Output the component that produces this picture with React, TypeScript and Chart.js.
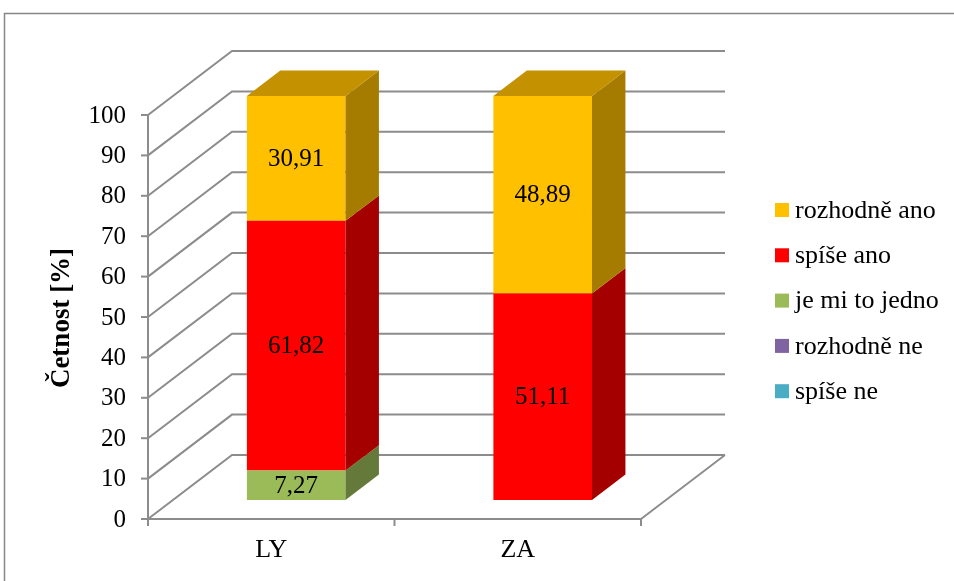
import React, { useEffect, useRef } from 'react';
import { Chart, registerables } from 'chart.js';
Chart.register(...registerables);

const categories = ['LY', 'ZA'];
const seriesLabels = ['spíše ne', 'rozhodně ne', 'je mi to jedno', 'spíše ano', 'rozhodně ano'];
const spiseNe = [0, 0];
const rozhodneNe = [0, 0];
const jeMiToJedno = [7.27, 0];
const spiseAno = [61.82, 51.11];
const rozhodneAno = [30.91, 48.89];
const yTicks = [0, 10, 20, 30, 40, 50, 60, 70, 80, 90, 100];
const yTitle = 'Četnost [%]';

const frontColors = ['#4BACC6', '#8064A2', '#9BBB59', '#FF0000', '#FFC000'];
const sideColors = ['#2F7F94', '#4F3C66', '#657A3A', '#A50000', '#A67C00'];
const topColors = ['#3A97B0', '#66508A', '#7E9A48', '#C40000', '#C49100'];

const FONT = '"Liberation Serif", "Times New Roman", serif';
const DX = 84;
const DY = -64;
const BAR_FRONT = 0.297;
const BAR_BACK = 0.695;
const GRID = '#8c8c8c';

const fmt = (v: number) => v.toFixed(2).replace('.', ',');

const threeD = {
  id: 'threeD',
  beforeDatasetsDraw(chart: any) {
    const { ctx, chartArea: a, scales } = chart;
    const y = scales.y;
    const x = scales.x;
    const xl = a.left;
    const xr = a.right;
    const y0 = y.getPixelForValue(yTicks[0]);
    const yTop = y.getPixelForValue(yTicks[yTicks.length - 1]);
    ctx.save();
    ctx.strokeStyle = '#878787';
    ctx.lineWidth = 1.5;
    ctx.strokeRect(4.5, 13.5, 1200, 800);

    ctx.strokeStyle = GRID;
    ctx.lineWidth = 2;
    const line = (x1: number, y1: number, x2: number, y2: number) => {
      ctx.beginPath();
      ctx.moveTo(x1, y1);
      ctx.lineTo(x2, y2);
      ctx.stroke();
    };
    yTicks.forEach((t) => {
      const py = y.getPixelForValue(t);
      ctx.beginPath();
      ctx.moveTo(xl, py);
      ctx.lineTo(xl + DX, py + DY);
      ctx.lineTo(xr + DX, py + DY);
      ctx.stroke();
      line(xl - 7, py, xl, py);
    });
    line(xr, y0, xr + DX, y0 + DY);
    line(xl, yTop, xl, y0);
    line(xl, y0, xr, y0);
    const n = categories.length;
    for (let i = 0; i <= n; i++) {
      const bx = xl + (i * (xr - xl)) / n;
      line(bx, y0, bx, y0 + 7);
    }

    ctx.fillStyle = '#000';
    ctx.font = `25px ${FONT}`;
    ctx.textAlign = 'right';
    ctx.textBaseline = 'middle';
    yTicks.forEach((t) => {
      ctx.fillText(String(t), xl - 22, y.getPixelForValue(t) + 1);
    });
    ctx.textAlign = 'center';
    ctx.font = `26px ${FONT}`;
    categories.forEach((c, j) => {
      ctx.fillText(c, x.getPixelForValue(j), 550);
    });
    ctx.save();
    ctx.translate(62, 318);
    ctx.rotate(-Math.PI / 2);
    ctx.font = `bold 27px ${FONT}`;
    ctx.fillText(yTitle, 0, 0);
    ctx.restore();

    ctx.restore();
    ctx.save();
    ctx.translate(DX * BAR_FRONT, DY * BAR_FRONT);
  },
  afterDatasetsDraw(chart: any) {
    const ctx = chart.ctx;
    ctx.restore();
    const ox = DX * BAR_FRONT;
    const oy = DY * BAR_FRONT;
    const dx = DX * (BAR_BACK - BAR_FRONT);
    const dy = DY * (BAR_BACK - BAR_FRONT);
    const nds = chart.data.datasets.length;
    ctx.save();
    categories.forEach((_c, j) => {
      let topIdx = -1;
      for (let i = 0; i < nds; i++) {
        if ((chart.data.datasets[i].data[j] as number) > 0) topIdx = i;
      }
      for (let i = 0; i < nds; i++) {
        const v = chart.data.datasets[i].data[j] as number;
        if (!(v > 0)) continue;
        const el = chart.getDatasetMeta(i).data[j];
        const x0 = el.x - el.width / 2 + ox;
        const x1 = el.x + el.width / 2 + ox;
        const top = el.y + oy;
        const bot = el.base + oy;
        ctx.fillStyle = sideColors[i];
        ctx.beginPath();
        ctx.moveTo(x1, top);
        ctx.lineTo(x1 + dx, top + dy);
        ctx.lineTo(x1 + dx, bot + dy);
        ctx.lineTo(x1, bot);
        ctx.closePath();
        ctx.fill();
        if (i === topIdx) {
          ctx.fillStyle = topColors[i];
          ctx.beginPath();
          ctx.moveTo(x0, top);
          ctx.lineTo(x0 + dx, top + dy);
          ctx.lineTo(x1 + dx, top + dy);
          ctx.lineTo(x1, top);
          ctx.closePath();
          ctx.fill();
        }
      }
      for (let i = 0; i < nds; i++) {
        const v = chart.data.datasets[i].data[j] as number;
        if (!(v > 0)) continue;
        const el = chart.getDatasetMeta(i).data[j];
        ctx.fillStyle = '#000';
        ctx.font = `25px ${FONT}`;
        ctx.textAlign = 'center';
        ctx.textBaseline = 'middle';
        ctx.fillText(fmt(v), el.x + ox, (el.y + el.base) / 2 + oy + 1);
      }
    });
    const items = chart.data.datasets.slice().reverse();
    items.forEach((ds: any, k: number) => {
      const cy = 210 + k * 45.3;
      ctx.fillStyle = ds.backgroundColor;
      ctx.fillRect(775, cy - 7, 14, 14);
      ctx.fillStyle = '#000';
      ctx.font = `26px ${FONT}`;
      ctx.textAlign = 'left';
      ctx.textBaseline = 'middle';
      ctx.fillText(ds.label, 795, cy + 1);
    });
    ctx.restore();
  },
};

export default function App() {
  const ref = useRef<HTMLCanvasElement>(null);
  useEffect(() => {
    if (!ref.current) return;
    const values = [spiseNe, rozhodneNe, jeMiToJedno, spiseAno, rozhodneAno];
    const chart = new Chart(ref.current, {
      type: 'bar',
      data: {
        labels: categories,
        datasets: values.map((d, i) => ({
          label: seriesLabels[i],
          data: d,
          backgroundColor: frontColors[i],
          borderWidth: 0,
          clip: false as any,
          categoryPercentage: 1,
          barPercentage: 0.4,
        })),
      },
      options: {
        responsive: false,
        animation: false,
        devicePixelRatio: 1,
        layout: { padding: { left: 148, right: 313, top: 115, bottom: 62 } },
        scales: {
          x: { display: false, stacked: true },
          y: { display: false, stacked: true, min: 0, max: 100, ticks: { stepSize: 10 } },
        },
        plugins: { legend: { display: false }, tooltip: { enabled: false } },
      },
      plugins: [threeD],
    });
    return () => chart.destroy();
  }, []);
  return (
    <div style={{ position: 'fixed', left: 0, top: 0, width: 954, height: 581, background: '#fff' }}>
      <canvas ref={ref} width={954} height={581} style={{ display: 'block' }} />
    </div>
  );
}
